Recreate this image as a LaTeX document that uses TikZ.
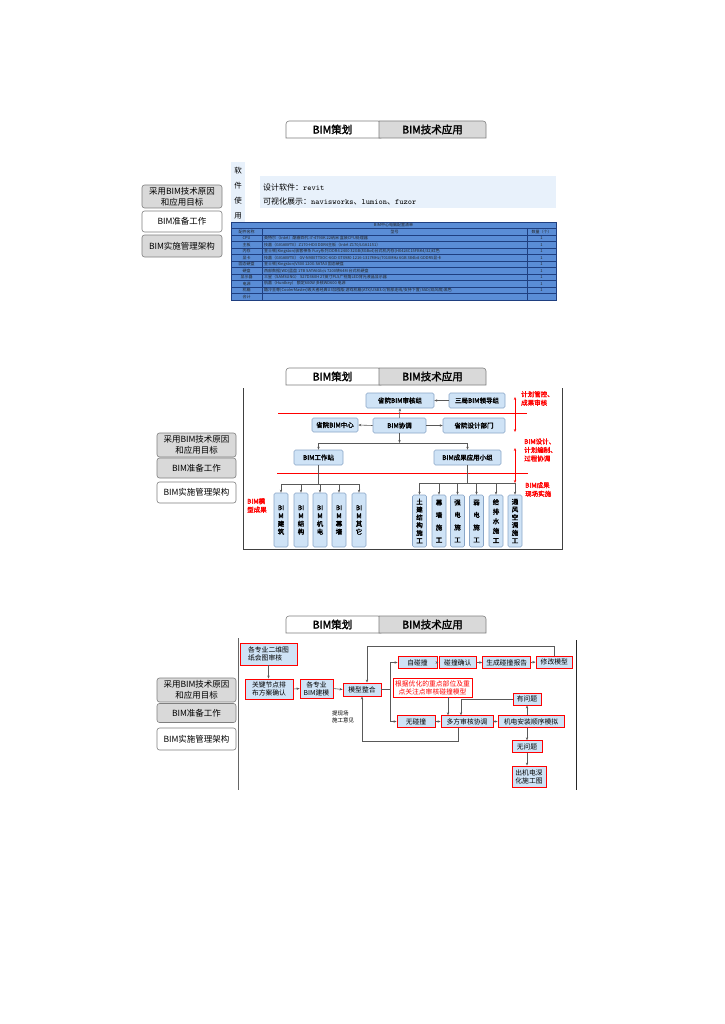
\documentclass[tikz,border=0pt]{standalone}
\usepackage{fontspec}
\setmainfont{Noto Sans CJK SC}[AutoFakeBold=2]
\usetikzlibrary{arrows.meta}
\definecolor{tabgray}{HTML}{D9D9D9}
\definecolor{edgegray}{HTML}{7F7F7F}
\definecolor{nodeblue}{HTML}{CFE3F6}
\definecolor{nodeedge}{HTML}{8AA6C8}
\definecolor{tblblue}{HTML}{5A8DD6}
\definecolor{tblline}{HTML}{1F3F80}
\definecolor{paleblue}{HTML}{E8F1FB}
\definecolor{redc}{HTML}{FF0000}
\definecolor{linec}{HTML}{595959}
\tikzset{
 tabtxt/.style={font=\bfseries\fontsize{10.5}{12}\selectfont, inner sep=0},
 btn/.style={draw=edgegray, rounded corners=2.5pt, line width=0.6pt, minimum width=79pt, align=center, inner sep=0, font=\fontsize{8.5}{11}\selectfont},
 btng/.style={btn, fill=tabgray},
 btnw/.style={btn, fill=white},
 nb/.style={draw=nodeedge, fill=nodeblue, rounded corners=1.5pt, line width=0.6pt, inner sep=0, font=\bfseries\fontsize{6.5}{7.5}\selectfont},
 tallbox/.style={nb, minimum width=14pt, align=center, font=\bfseries\fontsize{6.5}{#1}\selectfont},
 redlbl/.style={text=redc, font=\bfseries\fontsize{6.5}{8.5}\selectfont, align=left, inner sep=0, anchor=west},
 rb/.style={draw=redc, fill=nodeblue, line width=0.9pt, inner sep=0, align=center, font=\fontsize{6.8}{8}\selectfont},
 arr/.style={draw=linec, line width=0.6pt, -{Stealth[length=3pt,width=2.4pt]}},
 redarr/.style={draw=redc, line width=0.7pt, {Stealth[length=3pt,width=2.4pt]}-{Stealth[length=3pt,width=2.4pt]}},
 ln/.style={draw=linec, line width=0.6pt},
 tcell/.style={inner sep=0, font=\fontsize{4}{4.5}\selectfont, text=black!85},
 tcl/.style={tcell, anchor=west},
}
\newcommand\drawtabs[2]{%
 \draw[draw=edgegray, fill=white, line width=0.6pt, rounded corners=3pt] (286,#2+17) -- (286,#2) -- (381,#2) [sharp corners] -- (381,#2+17) -- cycle;
 \draw[draw=edgegray, fill=tabgray, line width=0.6pt, rounded corners=3pt] (379,#2+17) [sharp corners] -- (379,#2) [rounded corners=3pt] -- (486,#2) [sharp corners] -- (486,#2+17) -- cycle;
 \node[tabtxt] (#1ta) at (332.5,#2+8.5) {BIM策划};
 \node[tabtxt] (#1tb) at (432.5,#2+8.5) {BIM技术应用};
}
\begin{document}
\begin{tikzpicture}[x=1pt,y=-1pt]
\fill[white] (0,0) rectangle (724,1024);
\useasboundingbox (0,0) rectangle (724,1024);

% ================= Panel 1 =================
\drawtabs{p1}{121}
\node[btng, minimum width=80pt, minimum height=23pt] (p1b1) at (182,196.5) {采用BIM技术原因\\和应用目标};
\node[btnw, minimum width=80pt, minimum height=21pt] (p1b2) at (182,221.5) {BIM准备工作};
\node[btng, minimum width=80pt, minimum height=22pt] (p1b3) at (182,246) {BIM实施管理架构};

\fill[paleblue] (231,162) rectangle (245,222);
\node[align=center, inner sep=0, font=\fontsize{7.5}{15}\selectfont] (p1v) at (238,193.5) {软\\件\\使\\用};
\fill[paleblue] (260,176) rectangle (556,208);
\node[anchor=west, inner sep=0, font=\fontsize{8}{9}\selectfont] (p1s1) at (263,187) {设计软件：\texttt{revit}};
\node[anchor=west, inner sep=0, font=\fontsize{8}{9}\selectfont] (p1s2) at (263,201.5) {可视化展示：\texttt{navisworks}、\texttt{lumion}、\texttt{fuzor}};

% table
\fill[tblblue] (231,222) rectangle (556,300);
\draw[tblline, line width=0.4pt] (231,222) rectangle (556,300);
\foreach \yy in {228,235,241.5,248,254.5,261,267.5,274,280.5,287,293.5}
  \draw[tblline, line width=0.3pt] (231,\yy) -- (556,\yy);
\draw[tblline, line width=0.3pt] (262,228) -- (262,300);
\draw[tblline, line width=0.3pt] (527,228) -- (527,300);
\node[tcell] (tt) at (393.5,225) {BIM中心电脑配置清单};
\node[tcell] (th1) at (246.5,231.5) {配件名称};
\node[tcell] (th2) at (394.5,231.5) {型号};
\node[tcell] (th3) at (541.5,231.5) {数量（个）};
\node[tcell] (r1a) at (246.5,238.25) {CPU};
\node[tcl] (r1b) at (264,238.25) {英特尔（Intel）酷睿四代 i7-4790K 22纳米 盒装CPU处理器};
\node[tcell] (r2a) at (246.5,244.75) {主板};
\node[tcl] (r2b) at (264,244.75) {技嘉（GIGABYTE）Z170-HD3 DDR4主板（Intel Z170/LGA1151）};
\node[tcell] (r3a) at (246.5,251.25) {内存};
\node[tcl] (r3b) at (264,251.25) {金士顿(Kingston)骇客神条 Fury系列 DDR4 2400 32GB(8GBx4)台式机内存(HX424C15FBK4/32)红色};
\node[tcell] (r4a) at (246.5,257.75) {显卡};
\node[tcl] (r4b) at (264,257.75) {技嘉（GIGABYTE） GV-N980TTXOC-6GD GTX980 1216-1317MHz/7010MHz 6GB 384bit GDDR5显卡};
\node[tcell] (r5a) at (246.5,264.25) {固态硬盘};
\node[tcl] (r5b) at (264,264.25) {金士顿(Kingston)V300 120G SATA3 固态硬盘};
\node[tcell] (r6a) at (246.5,270.75) {硬盘};
\node[tcl] (r6b) at (264,270.75) {西部数据(WD)蓝盘 1TB SATA6Gb/s 7200转64M 台式机硬盘};
\node[tcell] (r7a) at (246.5,277.25) {显示器};
\node[tcl] (r7b) at (264,277.25) {三星（SAMSUNG） S27D360H 27英寸PLS广视角LED背光液晶显示器};
\node[tcell] (r8a) at (246.5,283.75) {电源};
\node[tcl] (r8b) at (264,283.75) {航嘉（Huntkey） 额定600W 多核WD600 电源};
\node[tcell] (r9a) at (246.5,290.25) {机箱};
\node[tcl] (r9b) at (264,290.25) {酷冷至尊(CoolerMaster)毁灭者经典U3加强版 游戏机箱(ATX/USB3.0/背部走线/支持下置/SSD/双风扇)黑色};
\node[tcell] (r10a) at (246.5,296.75) {合计};
\foreach \i/\yy in {1/238.25,2/244.75,3/251.25,4/257.75,5/264.25,6/270.75,7/277.25,8/283.75,9/290.25}
  \node[tcell] (q\i) at (541.5,\yy) {1};

% ================= Panel 2 =================
\drawtabs{p2}{368}
\node[btng, minimum height=24pt] (p2b1) at (196.5,445) {采用BIM技术原因\\和应用目标};
\node[btng, minimum height=20pt] (p2b2) at (196.5,468) {BIM准备工作};
\node[btnw, minimum height=21pt] (p2b3) at (196.5,492.5) {BIM实施管理架构};
\draw[draw=black!75, line width=0.8pt] (243,388) -- (243,549) -- (562,549) -- (562,388);

\node[nb, minimum width=68pt, minimum height=15pt] (sh) at (400,400.5) {省院BIM审核组};
\node[nb, minimum width=56pt, minimum height=15pt] (ld) at (477,400.5) {三局BIM领导组};
\node[nb, minimum width=46pt, minimum height=14pt] (zx) at (335,425) {省院BIM中心};
\node[nb, minimum width=53pt, minimum height=15pt] (xt) at (399.5,425.5) {BIM协调};
\node[nb, minimum width=62pt, minimum height=15pt] (sj) at (474,425.5) {省院设计部门};
\node[nb, minimum width=49pt, minimum height=15pt] (gz) at (318.5,457.5) {BIM工作站};
\node[nb, minimum width=67pt, minimum height=15pt] (yy) at (467.5,457.5) {BIM成果应用小组};

\draw[redc, line width=1pt] (278,413) -- (527,413);
\draw[redc, line width=1pt] (277,473) -- (528,473);

\draw[arr] (ld.west) -- (sh.east);
\draw[arr] (xt.north) -- (sh.south);
\draw[arr] (xt.west) -- (zx.east);
\draw[arr] (xt.east) -- (sj.west);
\coordinate (jm) at (399.5,443);
\coordinate (jl) at (318.5,443);
\coordinate (jr) at (467.5,443);
\draw[arr] (xt.south) -- (jm);
\draw[ln] (jl) -- (jr);
\draw[arr] (jl) -- (gz.north);
\draw[arr] (jr) -- (yy.north);

% left tall boxes
\node[tallbox=8, minimum height=54pt] (L1) at (281,520) {BI\\M\\建\\筑};
\node[tallbox=8, minimum height=54pt] (L2) at (301,520) {BI\\M\\结\\构};
\node[tallbox=8, minimum height=54pt] (L3) at (320,520) {BI\\M\\机\\电};
\node[tallbox=8, minimum height=54pt] (L4) at (339,520) {BI\\M\\幕\\墙};
\node[tallbox=8, minimum height=54pt] (L5) at (359,520) {BI\\M\\其\\它};
\coordinate (hl) at (318.5,484);
\draw[ln] (gz.south) -- (hl);
\draw[ln] (L1.north |- hl) -- (L5.north |- hl);
\foreach \i in {1,...,5} \draw[arr] (L\i.north |- hl) -- (L\i.north);

% right tall boxes
\node[tallbox=7.8, minimum height=52pt] (R1) at (419.5,521) {土\\建\\结\\构\\施\\工};
\node[tallbox=12.5, minimum height=52pt] (R2) at (439,521) {幕\\墙\\施\\工};
\node[tallbox=12.5, minimum height=52pt] (R3) at (457.5,521) {强\\电\\施\\工};
\node[tallbox=12.5, minimum height=52pt] (R4) at (476.5,521) {弱\\电\\施\\工};
\node[tallbox=9.6, minimum height=52pt] (R5) at (496,521) {给\\排\\水\\施\\工};
\node[tallbox=7.8, minimum height=52pt] (R6) at (515,521) {通\\风\\空\\调\\施\\工};
\coordinate (hr) at (467.5,483);
\draw[ln] (yy.south) -- (hr);
\draw[ln] (R1.north |- hr) -- (R6.north |- hr);
\foreach \i in {1,...,6} \draw[arr] (R\i.north |- hr) -- (R\i.north);

% red arrows and labels
\coordinate (ra1) at (515,397);
\coordinate (ra2) at (515,432);
\coordinate (ra3) at (515,448);
\coordinate (ra4) at (515,483);
\draw[redarr] (ra1) -- (ra2);
\draw[redarr] (ra3) -- (ra4);
\node[redlbl] (rl1) at (521,398.5) {计划管控、\\成果审核};
\node[redlbl] (rl2) at (524,450) {BIM设计、\\计划编制、\\过程协调};
\node[redlbl] (rl3) at (525,489.5) {BIM成果\\现场实施};
\node[redlbl] (rl4) at (247,505.5) {BIM模\\型成果};

% ================= Panel 3 =================
\drawtabs{p3}{616}
\node[btng, minimum height=24pt] (p3b1) at (196.5,690) {采用BIM技术原因\\和应用目标};
\node[btng, minimum height=19pt] (p3b2) at (196.5,713) {BIM准备工作};
\node[btnw, minimum height=22pt] (p3b3) at (196.5,739) {BIM实施管理架构};
\draw[draw=black!60, line width=0.8pt] (238,638) -- (238,790);
\draw[draw=black!85, line width=0.8pt] (576,640) -- (576,790);

\node[rb, minimum width=57pt, minimum height=22pt, align=left] (c1) at (268.5,654) {各专业二维图\\纸会图审核};
\node[rb, minimum width=48pt, minimum height=20pt] (c2) at (269,689) {关键节点排\\布方案确认};
\node[rb, minimum width=33pt, minimum height=19pt] (c3) at (316.5,688.5) {各专业\\BIM建模};
\node[rb, minimum width=38pt, minimum height=13pt] (c4) at (362,689.5) {模型整合};
\node[rb, minimum width=39pt, minimum height=11.5pt] (c5) at (417.5,662.5) {自碰撞};
\node[rb, minimum width=37.7pt, minimum height=11.5pt] (c6) at (457.8,662.5) {碰撞确认};
\node[rb, minimum width=48pt, minimum height=11.5pt] (c7) at (506.7,662.5) {生成碰撞报告};
\node[rb, minimum width=36.7pt, minimum height=12pt] (c8) at (554.3,662) {修改模型};
\node[rb, fill=white, text=redc, line width=0.7pt, minimum width=79pt, minimum height=19pt] (c9) at (432.5,687.5) {根据优化的重点部位及重\\点关注点审核碰撞模型};
\node[rb, minimum width=28pt, minimum height=12pt] (c10) at (527,699) {有问题};
\node[rb, minimum width=38pt, minimum height=11.5pt] (c11) at (416,721.5) {无碰撞};
\node[rb, minimum width=52pt, minimum height=11.5pt] (c12) at (467,721.5) {多方审核协调};
\node[rb, minimum width=66pt, minimum height=11.5pt] (c13) at (531,721.5) {机电安装顺序模拟};
\node[rb, minimum width=30pt, minimum height=11.5pt] (c14) at (527,746.5) {无问题};
\node[rb, minimum width=34pt, minimum height=21pt] (c15) at (529,776.5) {出机电深\\化施工图};
\node[anchor=west, inner sep=0, align=left, font=\fontsize{5.5}{7}\selectfont] (t1) at (332,716.5) {提现场\\施工意见};

\draw[arr] (c1.south) -- (c1.south |- c2.north);
\draw[arr] (c2.east) -- (c3.west);
\draw[arr] (c3.east) -- (c4.west);
\coordinate (tl) at (367,646);
\draw[arr] (c8.north) |- (tl) -- (tl |- c4.north);
\coordinate (vj) at (390,689.5);
\draw[ln] (c4.east) -- (vj);
\draw[arr] (vj) |- (c5.west);
\draw[arr] (vj) |- (c11.west);
\draw[arr] (c5.east) -- (c6.west);
\draw[arr] (c6.east) -- (c7.west);
\draw[arr] (c7.east) -- (c8.west);
\draw[arr] (c11.east) -- (c12.west);
\draw[arr] (c12.east) -- (c13.west);
\draw[arr] ([xshift=15.5pt]c9.south) -- ([xshift=15.5pt]c9.south |- c12.north);
\draw[arr] (c10.west) -| ([xshift=-6pt]c12.north);
\draw[arr] (c10.south |- c13.north) -- (c10.south);
\draw[arr] (c14.north |- c13.south) -- (c14.north);
\draw[arr] (c14.south) -- (c14.south |- c15.north);
\coordinate (lb) at (362,741);
\draw[arr] ([xshift=-9pt]c12.south) |- (lb) -- (c4.south);
\end{tikzpicture}
\end{document}
